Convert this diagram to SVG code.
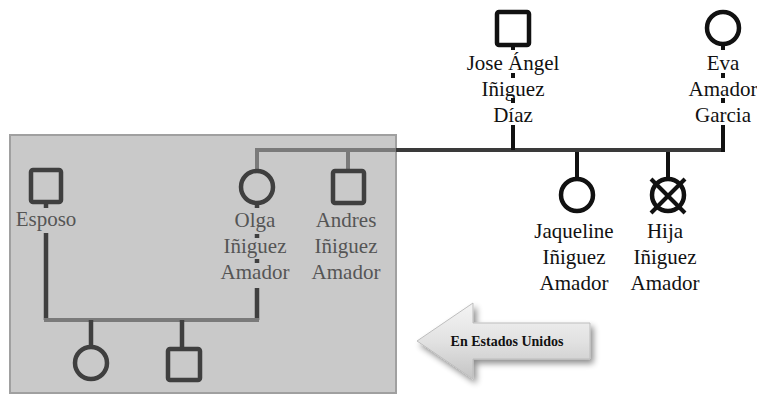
<svg xmlns="http://www.w3.org/2000/svg" width="757" height="403" viewBox="0 0 757 403">
<defs>
<style>
.bk{fill:none;stroke:#111;stroke-width:4.5;stroke-linejoin:round}
.gy{fill:none;stroke:#3f3f3f;stroke-width:4.5;stroke-linejoin:round}
.ln{fill:none;stroke:#111;stroke-width:4}
.lg{fill:none;stroke:#7a7a7a;stroke-width:4}
.ld{fill:none;stroke:#3a3a3a;stroke-width:4}
.t{font-family:"Liberation Serif","Times New Roman",serif;font-size:21px;text-anchor:middle;fill:#111}
.tg{font-family:"Liberation Serif","Times New Roman",serif;font-size:21px;text-anchor:middle;fill:#555}
</style>
<linearGradient id="ag" x1="0" y1="0" x2="0" y2="1">
<stop offset="0" stop-color="#f4f4f4"/>
<stop offset="0.5" stop-color="#e2e2e2"/>
<stop offset="1" stop-color="#c4c4c4"/>
</linearGradient>
<filter id="sh" x="-20%" y="-30%" width="140%" height="170%">
<feGaussianBlur in="SourceAlpha" stdDeviation="3"/>
<feOffset dx="3" dy="4" result="b"/>
<feComponentTransfer><feFuncA type="linear" slope="0.45"/></feComponentTransfer>
<feMerge><feMergeNode/><feMergeNode in="SourceGraphic"/></feMerge>
</filter>
</defs>
<rect width="757" height="403" fill="#fff"/>
<rect id="region" x="10" y="135" width="386" height="258" fill="#c9c9c9" stroke="#a0a0a0" stroke-width="2"/>
<g id="connectors">
<line class="lg" x1="255" y1="150" x2="396" y2="150"/>
<line class="ld" x1="396" y1="150" x2="725" y2="150"/>
<line class="lg" x1="257" y1="148" x2="257" y2="171"/>
<line class="lg" x1="348" y1="148" x2="348" y2="171"/>
<line class="ln" x1="513" y1="45" x2="513" y2="50"/>
<line class="ln" x1="513" y1="73" x2="513" y2="78"/>
<line class="ln" x1="513" y1="98" x2="513" y2="103"/>
<line class="ln" x1="513" y1="125" x2="513" y2="150"/>
<line class="ln" x1="723" y1="45" x2="723" y2="50"/>
<line class="ln" x1="723" y1="73" x2="723" y2="78"/>
<line class="ln" x1="723" y1="98" x2="723" y2="103"/>
<line class="ln" x1="723" y1="125" x2="723" y2="152"/>
<line class="ln" x1="577" y1="152" x2="577" y2="179"/>
<line class="ln" x1="668" y1="152" x2="668" y2="179"/>
<line class="gy" x1="46" y1="202" x2="46" y2="208"/>
<line class="gy" x1="46" y1="233" x2="46" y2="320"/>
<line class="gy" x1="257" y1="203" x2="257" y2="208"/>
<line class="gy" x1="257" y1="234" x2="257" y2="238"/>
<line class="gy" x1="257" y1="259" x2="257" y2="263"/>
<line class="gy" x1="257" y1="288" x2="257" y2="320"/>
<line class="lg" x1="44" y1="320" x2="259" y2="320"/>
<line class="gy" x1="91" y1="320" x2="91" y2="347"/>
<line class="gy" x1="182" y1="320" x2="182" y2="349"/>
</g>
<g id="jose">
<rect class="bk" x="497" y="12" width="32" height="33" rx="2"/>
<text class="t" x="513" y="70">Jose Ángel</text>
<text class="t" x="513" y="96">Iñiguez</text>
<text class="t" x="513" y="122">Díaz</text>
</g>
<g id="eva">
<circle class="bk" cx="723" cy="28" r="16"/>
<text class="t" x="723" y="70">Eva</text>
<text class="t" x="723" y="96">Amador</text>
<text class="t" x="723" y="122">Garcia</text>
</g>
<g id="jaqueline">
<circle class="bk" cx="577" cy="195" r="16"/>
<text class="t" x="574" y="238">Jaqueline</text>
<text class="t" x="574" y="264">Iñiguez</text>
<text class="t" x="574" y="290">Amador</text>
</g>
<g id="hija">
<circle class="bk" cx="668" cy="195" r="16"/>
<line class="ln" x1="651" y1="179" x2="685" y2="213"/>
<line class="ln" x1="685" y1="179" x2="651" y2="213"/>
<text class="t" x="665" y="238">Hija</text>
<text class="t" x="665" y="264">Iñiguez</text>
<text class="t" x="665" y="290">Amador</text>
</g>
<g id="esposo">
<rect class="gy" x="31" y="170" width="30" height="32" rx="2"/>
<text class="tg" x="46" y="226">Esposo</text>
</g>
<g id="olga">
<circle class="gy" cx="257" cy="187" r="16"/>
<text class="tg" x="255" y="227">Olga</text>
<text class="tg" x="255" y="253">Iñiguez</text>
<text class="tg" x="255" y="279">Amador</text>
</g>
<g id="andres">
<rect class="gy" x="333" y="171" width="31" height="32" rx="2"/>
<text class="tg" x="346" y="227">Andres</text>
<text class="tg" x="346" y="253">Iñiguez</text>
<text class="tg" x="346" y="279">Amador</text>
</g>
<g id="hijo1">
<circle class="gy" cx="91" cy="363" r="16"/>
</g>
<g id="hijo2">
<rect class="gy" x="168" y="349" width="32" height="31" rx="2"/>
</g>
<g id="arrow">
<path d="M417,341 L473,303 L473,323 L590,323 L590,359 L473,359 L473,379 Z" fill="url(#ag)" stroke="#bdbdbd" stroke-width="1" filter="url(#sh)"/>
<text x="507" y="346" font-family="'Liberation Serif','Times New Roman',serif" font-size="14" font-weight="bold" text-anchor="middle" fill="#111">En Estados Unidos</text>
</g>
</svg>
